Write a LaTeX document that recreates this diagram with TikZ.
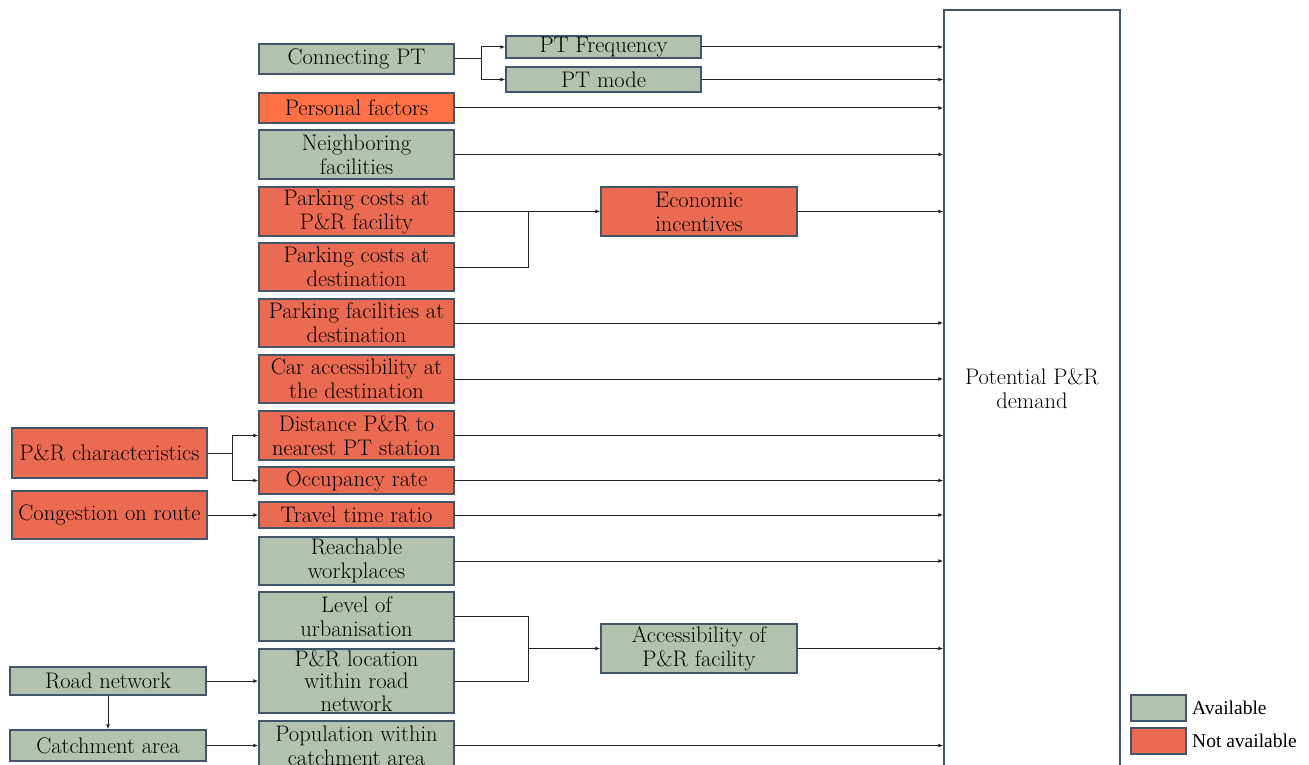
\documentclass[tikz,border=0pt]{standalone}
\usepackage{fontspec}
\usetikzlibrary{arrows.meta}
\newfontfamily\legendfont{Liberation Serif}
\definecolor{availfill}{HTML}{B2C2AE}
\definecolor{naFill}{HTML}{EB6A52}
\definecolor{persFill}{HTML}{FF7045}
\definecolor{boxline}{HTML}{44546A}
\definecolor{wire}{HTML}{222222}
\newcommand\boxfont{\fontsize{22.5}{24}\selectfont}
\tikzset{
  box/.style={draw=boxline, line width=1.4pt, rectangle, inner sep=0pt, align=center,
    font=\boxfont},
  avail/.style={box, fill=availfill},
  notavail/.style={box, fill=naFill},
  link/.style={draw=wire, line width=1pt},
  arr/.style={link, -{Latex[length=5pt,width=4pt]}},
}
\begin{document}
\begin{tikzpicture}[x=1pt,y=-1pt]
\useasboundingbox (0,0) rectangle (1309,765);
\clip (0,0) rectangle (1309,765);

% target box
\node[draw=boxline, line width=1.4pt, minimum width=176pt, minimum height=790pt, inner sep=0pt] (dem) at (1032,405) {};
\node[font=\boxfont, align=center] (demtxt) at (1032,389) {Potential P\&R\\demand};

% left column of factors
\node[avail,    minimum width=195pt, minimum height=30pt] (cpt)  at (356.5,59)    {Connecting PT};
\node[box, fill=persFill, minimum width=195pt, minimum height=30pt] (pf) at (356.5,108) {Personal factors};
\node[avail,    minimum width=195pt, minimum height=49pt] (nf)   at (356.5,154.5) {Neighboring\\facilities};
\node[notavail, minimum width=195pt, minimum height=49pt] (pc1)  at (356.5,211.5) {Parking costs at\\P\&R facility};
\node[notavail, minimum width=195pt, minimum height=48pt] (pc2)  at (356.5,267)   {Parking costs at\\destination};
\node[notavail, minimum width=195pt, minimum height=48pt] (pfd)  at (356.5,323)   {Parking facilities at\\destination};
\node[notavail, minimum width=195pt, minimum height=48pt] (cad)  at (356.5,379)   {Car accessibility at\\the destination};
\node[notavail, minimum width=195pt, minimum height=49pt] (dist) at (356.5,435.5) {Distance P\&R to\\nearest PT station};
\node[notavail, minimum width=195pt, minimum height=27pt] (occ)  at (356.5,480.5) {Occupancy rate};
\node[notavail, minimum width=195pt, minimum height=26pt] (tt)   at (356.5,515)   {Travel time ratio};
\node[avail,    minimum width=195pt, minimum height=48pt] (rw)   at (356.5,561)   {Reachable\\workplaces};
\node[avail,    minimum width=195pt, minimum height=49pt] (lvl)  at (356.5,616.5) {Level of\\urbanisation};
\node[avail,    minimum width=195pt, minimum height=64pt,
      label={[align=center, font=\fontsize{22.5}{22.5}\selectfont]center:P\&R location\\within road\\network}] (loc) at (356.5,681) {};
\node[avail,    minimum width=195pt, minimum height=49pt] (pop)  at (356.5,745.5) {Population within\\catchment area};

% middle column
\node[avail,    minimum width=195pt, minimum height=22pt] (ptf)  at (603.5,47)    {PT Frequency};
\node[avail,    minimum width=195pt, minimum height=25pt] (ptm)  at (603.5,79.5)  {PT mode};
\node[notavail, minimum width=196pt, minimum height=49pt] (econ) at (699,211.5)   {Economic\\incentives};
\node[avail,    minimum width=196pt, minimum height=49pt] (acc)  at (699,648.5)   {Accessibility of\\P\&R facility};

% far left causes
\node[notavail, minimum width=195pt, minimum height=50pt] (prc)   at (109.5,453) {P\&R characteristics};
\node[notavail, minimum width=195pt, minimum height=48pt] (cong)  at (109.5,515) {Congestion on route};
\node[avail,    minimum width=196pt, minimum height=28pt] (road)  at (108,681)   {Road network};
\node[avail,    minimum width=196pt, minimum height=31pt] (catch) at (108,745.5) {Catchment area};

% junction points
\coordinate (jpt)  at (481,59);
\coordinate (jpc)  at (528,211.5);
\coordinate (jacc) at (528,648.5);
\coordinate (jprc) at (232,453);

% branching links
\draw[link] (cpt.east) -- (jpt);
\draw[arr] (jpt) |- (ptf.west);
\draw[arr] (jpt) |- (ptm.west);
\draw[arr] (pc1.east) -- (econ.west);
\draw[link] (pc2.east) -| (jpc);
\draw[link] (lvl.east) -| (jacc);
\draw[link] (loc.east) -| (jacc);
\draw[arr] (jacc) -- (acc.west);
\draw[link] (prc.east) -- (jprc);
\draw[arr] (jprc) |- (dist.west);
\draw[arr] (jprc) |- (occ.west);
\draw[arr] (cong.east) -- (tt.west);
\draw[arr] (road.east) -- (loc.west);
\draw[arr] (road.south) -- (catch.north);
\draw[arr] (catch.east) -- (pop.west);

% links into the demand box
\foreach \n in {ptf,ptm,pf,nf,econ,pfd,cad,dist,occ,tt,rw,acc,pop}
  \draw[arr] (\n.east) -- (\n.east -| dem.west);

% legend
\node[draw=boxline, line width=1.4pt, fill=availfill, minimum width=55pt, minimum height=26pt, inner sep=0pt] (lg1) at (1158.5,708) {};
\node[draw=boxline, line width=1.4pt, fill=naFill, minimum width=55pt, minimum height=26pt, inner sep=0pt] (lg2) at (1158.5,741) {};
\node[anchor=west, inner sep=0pt, font=\legendfont\fontsize{19.5}{22}\selectfont] (lt1) at (1192,708) {Available};
\node[anchor=west, inner sep=0pt, font=\legendfont\fontsize{19.5}{22}\selectfont] (lt2) at (1192,741) {Not available};
\end{tikzpicture}
\end{document}
